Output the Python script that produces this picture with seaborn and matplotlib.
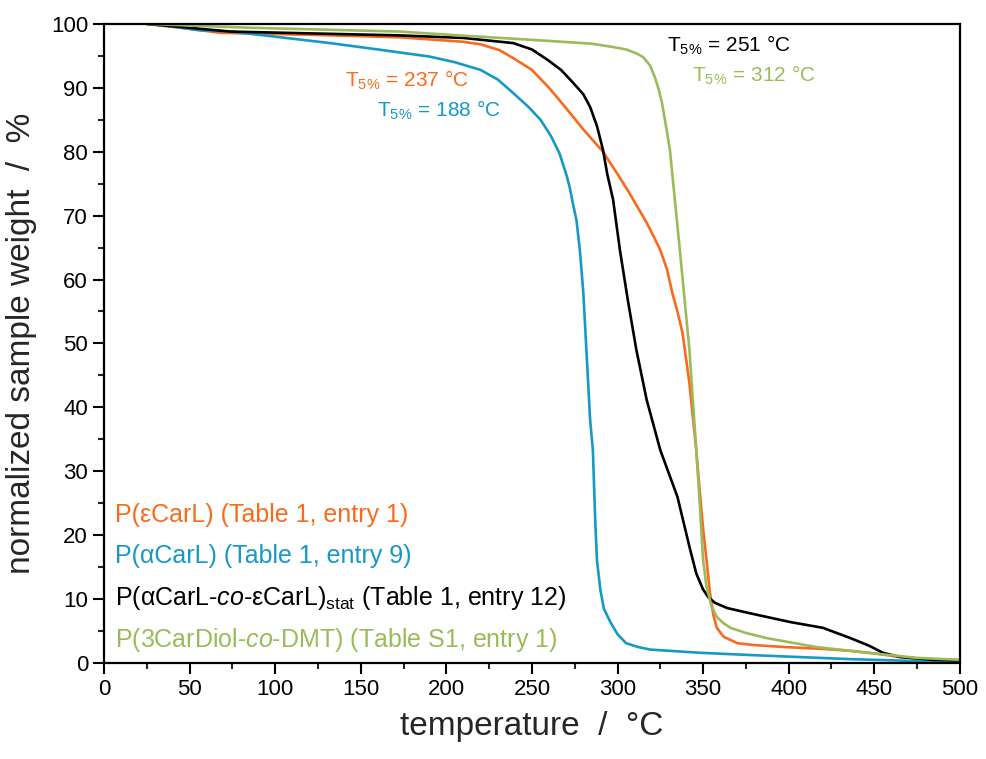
import matplotlib
matplotlib.use("Agg")
import matplotlib.pyplot as plt
from matplotlib.ticker import MultipleLocator
import pandas as pd
import seaborn as sns

# TGA traces: temperature (°C) and normalized sample weight (%)
t_ecarl = [25, 45, 68, 120, 173, 210, 220, 231, 240, 250, 260, 270, 280, 291.5, 300, 307, 312, 317, 321,
           325, 329, 332, 335, 338, 342, 346, 348, 350, 352, 354, 356, 358, 362, 370, 380, 397, 420, 436,
           450, 465, 484, 500]
w_ecarl = [100, 99.4, 98.6, 98.3, 97.9, 97.2, 96.8, 95.9, 94.5, 92.8, 90.0, 86.8, 83.5, 80.0, 76.5, 73.5,
           71.2, 68.9, 66.8, 64.6, 61.5, 57.9, 55.0, 51.6, 43.8, 33.3, 27.0, 21.0, 16.1, 11.0, 7.5, 5.5,
           4.1, 3.1, 2.8, 2.5, 2.2, 1.9, 1.5, 0.94, 0.5, 0.5]

t_acarl = [25, 40, 56, 74, 100, 132, 160, 190, 205, 220, 230, 239, 248, 255, 261, 266, 270, 272, 274,
           276, 278, 280, 282, 284, 285.6, 287, 288, 290, 292, 296, 300, 305, 312, 319, 348, 377, 436,
           475, 500]
w_acarl = [100, 99.6, 99.0, 98.8, 98.0, 97.0, 96.0, 94.9, 94.0, 92.8, 91.3, 89.2, 87.0, 85.0, 82.5, 79.8,
           76.5, 74.5, 71.8, 69.3, 64.6, 58.0, 48.0, 38.0, 33.3, 22.0, 16.0, 11.4, 8.5, 6.3, 4.5, 3.1,
           2.5, 2.1, 1.6, 1.25, 0.6, 0.3, 0.3]

t_copo = [25, 74, 173, 210, 239, 250, 259, 267, 274, 280, 284, 288, 291.5, 294, 297.4, 301.4, 306, 311,
          317, 325, 335, 342, 346, 350, 353, 357, 364, 377, 401, 420, 436, 447, 455, 465, 484, 500]
w_copo = [100, 98.8, 98.2, 97.8, 97.0, 96.0, 94.4, 92.8, 90.8, 89.0, 87.0, 84.0, 80.3, 76.5, 72.5, 64.6,
          56.8, 49.0, 41.2, 33.3, 26.0, 18.2, 14.0, 11.5, 10.3, 9.4, 8.6, 7.8, 6.4, 5.5, 3.9, 2.7, 1.6,
          0.94, 0.5, 0.4]

t_dmt = [25, 85, 173, 190, 268, 285, 297, 305, 311, 315, 319, 322, 324, 326, 328, 330.6, 336.4, 342, 346,
         348, 350, 352, 355, 358, 362, 366, 375, 387, 416, 446, 475, 500]
w_dmt = [100, 99.4, 98.8, 98.5, 97.2, 96.9, 96.4, 96.0, 95.4, 94.8, 93.5, 91.5, 89.8, 87.6, 84.5, 80.3,
         64.6, 49.0, 33.3, 25.0, 16.1, 11.9, 8.8, 7.2, 6.2, 5.5, 4.7, 3.9, 2.5, 1.6, 0.8, 0.5]

series_names = ["ecarl", "acarl", "copo", "dmt"]
series_colors = ["#F96A1E", "#1799C6", "#000000", "#9BBB59"]

legend_labels = [
    "P(εCarL) (Table 1, entry 1)",
    "P(αCarL) (Table 1, entry 9)",
    r"P(αCarL-$\mathit{co}$-εCarL)$_\mathrm{stat}$ (Table 1, entry 12)",
    r"P(3CarDiol-$\mathit{co}$-DMT) (Table S1, entry 1)",
]

t5_labels = [
    r"T$_{5\%}$ = 237 °C",
    r"T$_{5\%}$ = 188 °C",
    r"T$_{5\%}$ = 251 °C",
    r"T$_{5\%}$ = 312 °C",
]

frames = []
for name, t, w in zip(series_names,
                      [t_ecarl, t_acarl, t_copo, t_dmt],
                      [w_ecarl, w_acarl, w_copo, w_dmt]):
    frames.append(pd.DataFrame({"temperature": t, "weight": w, "sample": name}))
data = pd.concat(frames, ignore_index=True)

sns.set_style("ticks")
plt.rcParams["font.family"] = ["Liberation Sans", "DejaVu Sans"]
plt.rcParams["mathtext.fontset"] = "custom"
plt.rcParams["mathtext.rm"] = "Liberation Sans"
plt.rcParams["mathtext.it"] = "Liberation Sans:italic"
plt.rcParams["mathtext.bf"] = "Liberation Sans:bold"

fig = plt.figure(figsize=(9.86, 7.59), dpi=100)
ax = fig.add_axes([0.1055, 0.1265, 0.868, 0.842])

sns.lineplot(data=data, x="temperature", y="weight", hue="sample",
             hue_order=series_names, palette=series_colors,
             sort=False, estimator=None, legend=False, linewidth=1.9, ax=ax)
for ln in ax.lines:
    ln.set_solid_joinstyle("round")
    ln.set_solid_capstyle("round")

ax.set_xlim(0, 500)
ax.set_ylim(0, 100)
ax.xaxis.set_major_locator(MultipleLocator(50))
ax.xaxis.set_minor_locator(MultipleLocator(25))
ax.yaxis.set_major_locator(MultipleLocator(10))
ax.yaxis.set_minor_locator(MultipleLocator(5))
ax.tick_params(which="major", direction="out", length=8, width=1.5, labelsize=16, colors="black")
ax.tick_params(which="minor", direction="out", length=4, width=1.5)
for sp in ax.spines.values():
    sp.set_visible(True)
    sp.set_linewidth(1.6)
    sp.set_color("black")

ax.set_xlabel("temperature  /  °C", fontsize=24, labelpad=8)
ax.set_ylabel("normalized sample weight  /  %", fontsize=24, labelpad=10)

# legend written as coloured text lines in the lower left corner
legend_y = [22.1, 15.6, 9.1, 2.55]
for lab, col, y in zip(legend_labels, series_colors, legend_y):
    ax.text(6.4, y, lab, color=col, fontsize=18, va="baseline", ha="left")

# onset temperatures at 5 % weight loss
t5_pos = [(140.8, 90.2), (159.5, 85.5), (328.9, 95.7), (343.5, 91.0)]
for lab, col, (x, y) in zip(t5_labels, series_colors, t5_pos):
    ax.text(x, y, lab, color=col, fontsize=15, va="baseline", ha="left")

fig.savefig("out.png", dpi=100)
